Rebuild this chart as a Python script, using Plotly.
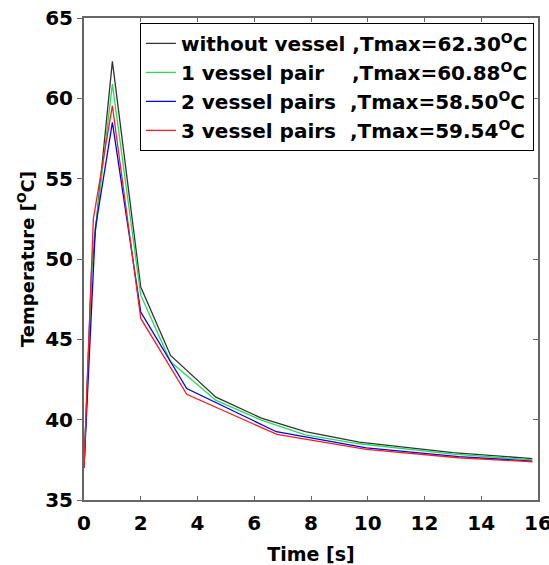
import plotly.graph_objects as go

# time [s] and temperature [°C] per case
t_none = [0, 0.27, 1, 2, 3.05, 4.65, 6.25, 7.8, 9.7, 13.0, 15.8]
T_none = [37.0, 49.4, 62.30, 48.25, 44.0, 41.4, 40.1, 39.25, 38.6, 37.95, 37.58]

t_one = [0, 0.3, 1, 2, 3.05, 4.65, 6.25, 7.8, 9.7, 13.0, 15.8]
T_one = [37.0, 50.3, 60.88, 47.75, 43.6, 41.2, 39.97, 39.05, 38.5, 37.85, 37.5]

t_two = [0, 0.4, 1, 2, 3.62, 6.78, 9.95, 13.2, 15.8]
T_two = [37.0, 51.9, 58.50, 46.7, 41.94, 39.25, 38.25, 37.7, 37.42]

t_three = [0, 0.33, 1, 2, 3.62, 6.8, 9.95, 13.2, 15.8]
T_three = [37.0, 52.5, 59.54, 46.3, 41.58, 39.08, 38.15, 37.63, 37.38]

names = [
    "without vessel ,Tmax=62.30<sup>O</sup>C",
    "1 vessel pair\u00a0\u00a0\u00a0\u00a0,Tmax=60.88<sup>O</sup>C",
    "2 vessel pairs\u00a0\u00a0,Tmax=58.50<sup>O</sup>C",
    "3 vessel pairs\u00a0\u00a0,Tmax=59.54<sup>O</sup>C",
]
colors = ["#333333", "#22dd55", "#0000ff", "#ff1a1a"]
series = [(t_none, T_none), (t_one, T_one), (t_two, T_two), (t_three, T_three)]

font_family = "DejaVu Sans"

fig = go.Figure()
for (tx, ty), nm, c in zip(series, names, colors):
    fig.add_trace(go.Scatter(x=tx, y=ty, mode="lines", name=nm,
                             line=dict(color=c, width=1.3)))

# invisible trace for the right-hand y axis (inside ticks)
fig.add_trace(go.Scatter(x=[0], y=[35], yaxis="y2", showlegend=False,
                         mode="markers", marker=dict(opacity=0), hoverinfo="skip"))

axis_color = "#666666"
fig.update_layout(
    width=549, height=565,
    margin=dict(l=84, r=11, t=18, b=65, autoexpand=False),
    plot_bgcolor="white", paper_bgcolor="white",
    font=dict(family=font_family, color="black"),
    xaxis=dict(
        range=[0, 16], dtick=2, tick0=0, automargin=False,
        showgrid=False, zeroline=False,
        showline=True, linecolor=axis_color, linewidth=2, mirror="ticks",
        ticks="inside", ticklen=4, tickcolor=axis_color, tickwidth=1,
        ticklabeloverflow="allow", ticklabelstandoff=4,
        tickfont=dict(size=20, family=font_family, weight="bold"),
        title=dict(text="<b>Time [s]</b>", font=dict(size=19, family=font_family), standoff=14),
    ),
    yaxis=dict(
        range=[35, 65], dtick=5, tick0=35, automargin=False,
        showgrid=False, zeroline=False,
        showline=True, linecolor=axis_color, linewidth=2, mirror=True,
        ticks="outside", ticklen=5, tickcolor=axis_color, tickwidth=1,
        ticklabeloverflow="allow",
        tickfont=dict(size=20, family=font_family, weight="bold"),
        title=dict(text="<b>Temperature [<sup>O</sup>C]</b>", font=dict(size=18, family=font_family), standoff=6),
    ),
    yaxis2=dict(
        range=[35, 65], dtick=5, tick0=35, overlaying="y", side="right", automargin=False,
        showgrid=False, zeroline=False, showline=False,
        ticks="inside", ticklen=5, tickcolor=axis_color, tickwidth=1,
        showticklabels=False,
    ),
    legend=dict(
        x=0.991, y=0.99, xanchor="right", yanchor="top",
        bgcolor="white", bordercolor="black", borderwidth=1,
        font=dict(size=20, family=font_family, weight="bold"),
        tracegroupgap=0, itemwidth=30,
    ),
)

fig.write_html("out.html")
